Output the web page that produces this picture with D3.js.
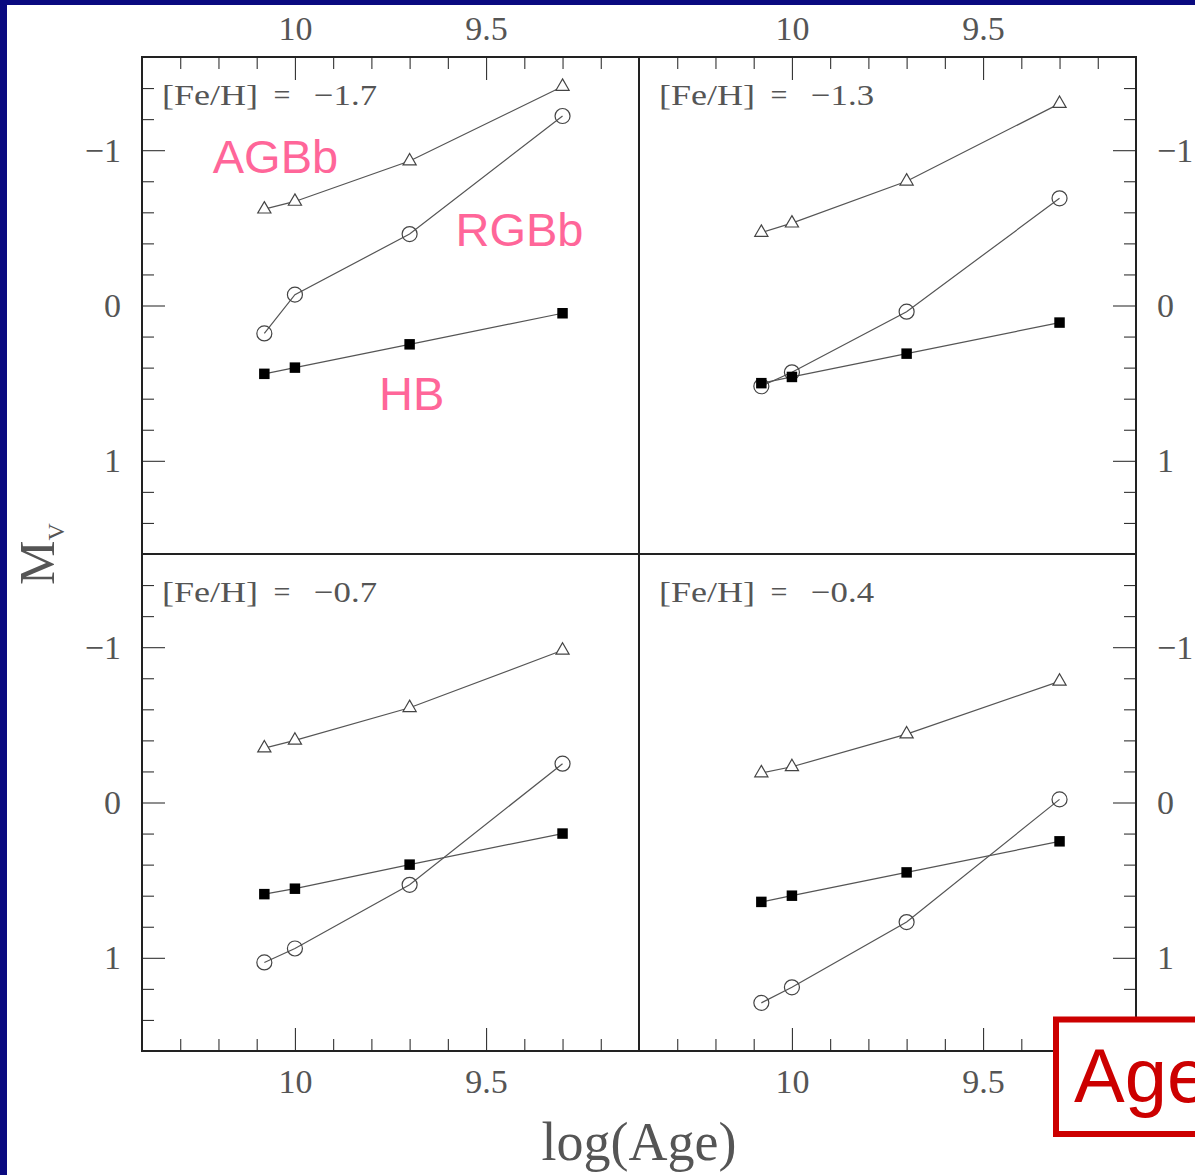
<!DOCTYPE html>
<html>
<head>
<meta charset="utf-8">
<script src="https://cdn.jsdelivr.net/npm/d3@7"></script>
<style>
  html, body { margin: 0; padding: 0; background: #fff; }
  svg { display: block; }
</style>
</head>
<body>
<svg id="chart" width="1195" height="1175"></svg>
<script>
// Ages (log years) at which each bump luminosity was computed
const logAge = [10.08, 10.0, 9.7, 9.3];

// Metallicity of each panel, in reading order
const feH = ["−1.7", "−1.3", "−0.7", "−0.4"];

// Absolute V magnitudes per panel: AGB bump, RGB bump, horizontal branch
const agbb = [
  [-0.62, -0.67, -0.93, -1.41],
  [-0.47, -0.53, -0.80, -1.30],
  [-0.35, -0.40, -0.61, -0.98],
  [-0.19, -0.23, -0.44, -0.78]
];
const rgbb = [
  [0.18, -0.07, -0.46, -1.22],
  [0.52, 0.43, 0.04, -0.69],
  [1.03, 0.94, 0.53, -0.25],
  [1.29, 1.19, 0.77, -0.02]
];
const hb = [
  [0.44, 0.40, 0.25, 0.05],
  [0.50, 0.46, 0.31, 0.11],
  [0.59, 0.555, 0.40, 0.20],
  [0.64, 0.60, 0.45, 0.25]
];

// Tick positions
const xMajorTicks = [10, 9.5];
const xMinorTicks = [10.3, 10.2, 10.1, 9.9, 9.8, 9.7, 9.6, 9.4, 9.3, 9.2];
const yMajorTicks = [-1, 0, 1];
const yMinorTicks = [-1.4, -1.2, -0.8, -0.6, -0.4, -0.2, 0.2, 0.4, 0.6, 0.8, 1.2, 1.4];

// Sequence labels in the first panel: [text, logAge, Mv]
const seqLabels = [
  ["AGBb", 10.215, -0.855],
  ["RGBb", 9.58, -0.38],
  ["HB", 9.78, 0.675]
];

const svg = d3.select("#chart");
const W = 1195, H = 1175;

// slide backdrop: navy band on the left and top
svg.append("rect").attr("x", 0).attr("y", 0).attr("width", W).attr("height", H).attr("fill", "#fff");
svg.append("rect").attr("x", 0).attr("y", 0).attr("width", 7).attr("height", H).attr("fill", "#0a0a80");
svg.append("rect").attr("x", 0).attr("y", 0).attr("width", W).attr("height", 5).attr("fill", "#0a0a80");

const plotLeft = 142, plotTop = 57, pw = 497, ph = 497;
const ink = "#555";
const serif = "Liberation Serif, DejaVu Serif, serif";
const majorLen = 23, minorLen = 12;

const x = d3.scaleLinear().domain([10.4, 9.1]).range([0, pw]);
const y = d3.scaleLinear().domain([-1.6, 1.6]).range([0, ph]);

const fmtX = d3.format("~g");
const fmtY = d3.format("d");

function styleAxis(g) {
  g.select(".domain").remove();
  g.selectAll(".tick line").attr("stroke", "#333").attr("stroke-width", 1.1);
  g.selectAll(".tick text")
    .attr("fill", ink)
    .attr("font-family", serif)
    .attr("font-size", 34);
}

const line = d3.line().x((d, i) => x(logAge[i])).y(d => y(d));

feH.forEach((label, p) => {
  const col = p % 2, row = Math.floor(p / 2);
  const g = svg.append("g").attr("transform", `translate(${plotLeft + col * pw},${plotTop + row * ph})`);

  // inward ticks on the outer edges only
  if (row === 0) {
    g.append("g").call(d3.axisTop(x).tickValues(xMajorTicks).tickFormat(fmtX).tickSizeInner(-majorLen).tickSizeOuter(0).tickPadding(17)).call(styleAxis);
    g.append("g").call(d3.axisTop(x).tickValues(xMinorTicks).tickFormat("").tickSizeInner(-minorLen).tickSizeOuter(0)).call(styleAxis);
  } else {
    g.append("g").attr("transform", `translate(0,${ph})`)
      .call(d3.axisBottom(x).tickValues(xMajorTicks).tickFormat(fmtX).tickSizeInner(-majorLen).tickSizeOuter(0).tickPadding(18)).call(styleAxis);
    g.append("g").attr("transform", `translate(0,${ph})`)
      .call(d3.axisBottom(x).tickValues(xMinorTicks).tickFormat("").tickSizeInner(-minorLen).tickSizeOuter(0)).call(styleAxis);
  }
  if (col === 0) {
    g.append("g").call(d3.axisLeft(y).tickValues(yMajorTicks).tickFormat(fmtY).tickSizeInner(-majorLen).tickSizeOuter(0).tickPadding(21)).call(styleAxis);
    g.append("g").call(d3.axisLeft(y).tickValues(yMinorTicks).tickFormat("").tickSizeInner(-minorLen).tickSizeOuter(0)).call(styleAxis);
  } else {
    g.append("g").attr("transform", `translate(${pw},0)`)
      .call(d3.axisRight(y).tickValues(yMajorTicks).tickFormat(fmtY).tickSizeInner(-majorLen).tickSizeOuter(0).tickPadding(21)).call(styleAxis);
    g.append("g").attr("transform", `translate(${pw},0)`)
      .call(d3.axisRight(y).tickValues(yMinorTicks).tickFormat("").tickSizeInner(-minorLen).tickSizeOuter(0)).call(styleAxis);
  }

  // panel frame
  g.append("rect").attr("width", pw).attr("height", ph)
    .attr("fill", "none").attr("stroke", "#222").attr("stroke-width", 2);

  // metallicity label, set with wide gaps around the equals sign
  const t = g.append("text")
    .attr("y", 48)
    .attr("font-family", serif)
    .attr("font-size", 30).attr("fill", ink);
  t.append("tspan").attr("x", 20).attr("textLength", 96).attr("lengthAdjust", "spacingAndGlyphs").text("[Fe/H]");
  t.append("tspan").attr("x", 140).attr("text-anchor", "middle").text("=");
  t.append("tspan").attr("x", 172).attr("textLength", 63).attr("lengthAdjust", "spacingAndGlyphs").text(label);

  // connecting lines
  [agbb[p], rgbb[p], hb[p]].forEach(series => {
    g.append("path").datum(series).attr("d", line)
      .attr("fill", "none").attr("stroke", ink).attr("stroke-width", 1.2);
  });

  // AGB bump: open triangles
  g.selectAll(".tri").data(agbb[p]).join("path")
    .attr("class", "tri")
    .attr("transform", (d, i) => `translate(${x(logAge[i])},${y(d)})`)
    .attr("d", d3.symbol(d3.symbolTriangle, 75))
    .attr("fill", "#fff").attr("stroke", "#444").attr("stroke-width", 1.2);

  // RGB bump: open circles
  g.selectAll(".circ").data(rgbb[p]).join("circle")
    .attr("class", "circ")
    .attr("cx", (d, i) => x(logAge[i])).attr("cy", d => y(d)).attr("r", 7.5)
    .attr("fill", "none").attr("stroke", "#444").attr("stroke-width", 1.2);

  // horizontal branch: filled squares
  g.selectAll(".sq").data(hb[p]).join("path")
    .attr("class", "sq")
    .attr("transform", (d, i) => `translate(${x(logAge[i])},${y(d)})`)
    .attr("d", d3.symbol(d3.symbolSquare, 110))
    .attr("fill", "#000");

  if (p === 0) {
    seqLabels.forEach(([s, a, m]) => {
      g.append("text").attr("x", x(a)).attr("y", y(m))
        .attr("font-family", "Liberation Sans, Arial, sans-serif")
        .attr("font-size", 47).attr("fill", "#ff6699").text(s);
    });
  }
});

// axis titles
svg.append("text")
  .attr("x", plotLeft + pw).attr("y", 1160)
  .attr("text-anchor", "middle")
  .attr("font-family", serif)
  .attr("font-size", 54).attr("fill", ink)
  .text("log(Age)");

const yt = svg.append("text")
  .attr("transform", `translate(54,${plotTop + ph}) rotate(-90)`)
  .attr("text-anchor", "middle")
  .attr("font-family", serif)
  .attr("font-size", 50).attr("fill", ink);
yt.append("tspan").text("M");
yt.append("tspan").attr("font-size", 24).attr("dy", 10).text("V");

// boxed caption in the lower right corner
svg.append("rect")
  .attr("x", 1056).attr("y", 1019.5).attr("width", 200).attr("height", 114.5)
  .attr("fill", "#fff").attr("stroke", "#cc0000").attr("stroke-width", 6);
svg.append("text")
  .attr("x", 1074).attr("y", 1102)
  .attr("font-family", "Liberation Sans, Arial, sans-serif")
  .attr("font-size", 76).attr("fill", "#cc0000")
  .text("Age");
</script>
</body>
</html>
